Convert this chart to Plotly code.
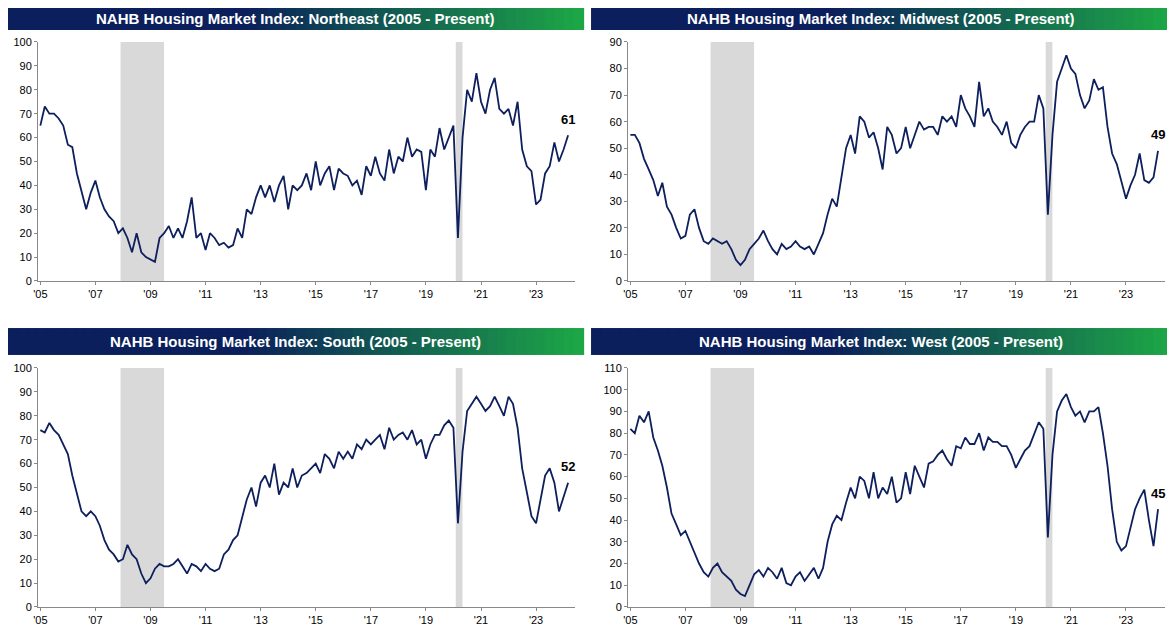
import pandas as pd
import plotly.graph_objects as go

# bimonthly readings Jan 2005 .. Mar 2024
dates = pd.date_range("2005-01-01", "2024-03-01", freq="2MS")

northeast = [65,73,70,70,68,65, 57,56,45,38,30,37, 42,35,30,27,25,20, 22,18,12,20,12,10,
             9,8,18,20,23,18, 22,18,25,35,18,20, 13,20,18,15,16,14, 15,22,18,30,28,35,
             40,35,40,33,40,44, 30,40,38,40,45,38, 50,40,45,48,38,47, 45,44,40,42,36,48,
             44,52,45,42,55,45, 52,50,60,52,55,54, 38,55,52,64,55,60, 65,18,60,80,75,87,
             75,70,80,85,72,70, 72,65,75,55,48,46, 32,34,45,48,58,50, 55,61]
midwest = [55,55,52,46,42,38, 32,37,28,25,20,16, 17,25,27,20,15,14, 16,15,14,15,12,8,
           6,8,12,14,16,19, 15,12,10,14,12,13, 15,13,12,13,10,14, 18,25,31,28,40,50,
           55,48,62,60,54,56, 50,42,58,55,48,50, 58,50,55,60,57,58, 58,55,62,60,62,58,
           70,65,62,58,75,62, 65,60,58,55,60,52, 50,55,58,60,60,70, 65,25,55,75,80,85,
           80,78,70,65,68,76, 72,73,58,48,44,38, 31,36,40,48,38,37, 39,49]
south = [74,73,77,74,72,68, 64,55,48,40,38,40, 38,34,28,24,22,19, 20,26,22,20,14,10,
         12,16,18,17,17,18, 20,17,14,18,17,15, 18,16,15,16,22,24, 28,30,38,45,50,42,
         52,55,50,60,47,52, 50,58,50,55,56,58, 60,56,64,62,58,65, 62,65,62,68,66,70,
         68,70,72,66,75,70, 72,73,70,74,68,70, 62,68,72,72,76,78, 75,35,65,82,85,88,
         85,82,84,88,84,80, 88,85,75,58,48,38, 35,45,55,58,52,40, 46,52]
west = [82,80,88,85,90,78, 72,65,55,43,38,33, 35,30,25,20,16,14, 18,20,16,14,12,8,
        6,5,10,15,17,14, 18,16,13,18,11,10, 14,16,12,15,18,13, 18,30,38,42,40,48,
        55,50,60,58,50,62, 50,55,52,60,48,50, 62,52,65,60,55,66, 67,70,72,68,65,74,
        73,78,75,75,80,72, 78,76,76,74,74,70, 64,68,72,74,80,85, 82,32,70,90,95,98,
        92,88,90,85,90,90, 92,80,65,45,30,26, 28,36,45,50,54,40, 28,45]

regions = ["Northeast", "Midwest", "South", "West"]
series = [northeast, midwest, south, west]
y_max = [100, 90, 100, 110]
recessions = [("2007-12-01", "2009-06-30"), ("2020-02-01", "2020-04-30")]

NAVY = "#0d1f5c"
# page body adds an 8px margin, so the figure is a bit smaller than the window
W, H = 1167, 628
xdom = [(0.0257, 0.4859), (0.5313, 0.9914)]
ydom = [(0.5653, 0.9459), (0.0462, 0.4268)]
bar_x = [(0.0, 0.4927), (0.4996, 0.9974)]
bar_y = [(0.965, 1.0), (0.4475, 0.4904)]

fig = go.Figure()
shapes, annotations = [], []

def mix(t):
    a = (11, 31, 92); b = (30, 170, 70)
    if t < 0.4:
        c = a
    else:
        u = (t - 0.4) / 0.6
        c = tuple(int(a[i] + (b[i] - a[i]) * u) for i in range(3))
    return "rgb(%d,%d,%d)" % c

for i, (name, vals) in enumerate(zip(regions, series)):
    col, row = i % 2, i // 2
    ax = "" if i == 0 else str(i + 1)
    fig.add_trace(go.Scatter(x=dates, y=vals, mode="lines", line=dict(color=NAVY, width=1.8),
                             xaxis="x" + ax, yaxis="y" + ax, showlegend=False))
    fig.update_layout(**{
        "xaxis" + ax: dict(domain=xdom[col], anchor="y" + ax, type="date", automargin=False,
                           range=["2004-12-01", "2024-06-01"], dtick="M24", tick0="2005-01-01",
                           tickformat="'%y", showgrid=False, showline=True, linecolor="#888",
                           ticks="outside", ticklen=3, tickcolor="#888", tickfont=dict(size=11)),
        "yaxis" + ax: dict(domain=ydom[row], anchor="x" + ax, range=[0, y_max[i]], dtick=10,
                           automargin=False, showgrid=False, showline=True, linecolor="#888",
                           ticks="outside", ticklen=3, tickcolor="#888", tickfont=dict(size=11),
                           zeroline=False),
    })
    for r0, r1 in recessions:
        shapes.append(dict(type="rect", xref="x" + ax, yref="y" + ax + " domain", x0=r0, x1=r1,
                           y0=0, y1=1, fillcolor="#d9d9d9", line_width=0, layer="below"))
    # gradient title bar
    n = 60
    bx0, bx1 = bar_x[col]
    for k in range(n):
        shapes.append(dict(type="rect", xref="paper", yref="paper",
                           x0=bx0 + (bx1 - bx0) * k / n, x1=bx0 + (bx1 - bx0) * (k + 1) / n + 0.001,
                           y0=bar_y[row][0], y1=bar_y[row][1], fillcolor=mix(k / n), line_width=0))
    annotations.append(dict(xref="paper", yref="paper", x=(bx0 + bx1) / 2, y=sum(bar_y[row]) / 2,
                            xanchor="center", yanchor="middle",
                            text="<b>NAHB Housing Market Index: %s (2005 - Present)</b>" % name,
                            showarrow=False, font=dict(color="white", size=15)))
    annotations.append(dict(xref="x" + ax, yref="y" + ax, x=dates[-1], y=vals[-1],
                            text="<b>%d</b>" % vals[-1], showarrow=False, yshift=16,
                            xanchor="center", font=dict(size=13, color="black")))

fig.update_layout(width=W, height=H, margin=dict(l=0, r=0, t=0, b=0),
                  paper_bgcolor="white", plot_bgcolor="white",
                  font=dict(family="Arial", color="black"),
                  shapes=shapes, annotations=annotations)
fig.write_html("out.html")
